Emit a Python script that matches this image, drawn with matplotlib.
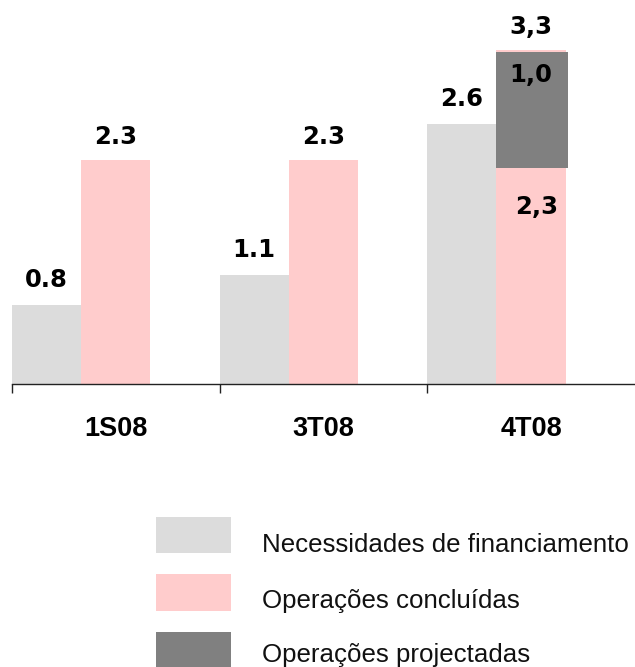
import matplotlib
matplotlib.use("Agg")
import matplotlib.pyplot as plt
from matplotlib.patches import Rectangle
import numpy as np

categories = ["1S08", "3T08", "4T08"]
series_names = ["Necessidades de financiamento", "Operações concluídas", "Operações projectadas"]
needs = [0.81, 1.12, 2.67]
concluded = [2.30, 2.30, 3.43]
projected_bottom = [0.0, 0.0, 2.22]
projected = [0.0, 0.0, 1.19]
needs_labels = ["0.8", "1.1", "2.6"]
concluded_labels = ["2.3", "2.3", "3,3"]
projected_label = "1,0"
concluded_base_label = "2,3"

c_needs = "#DCDCDC"
c_conc = "#FFCCCC"
c_proj = "#808080"
colors = [c_needs, c_conc, c_proj]

DPI = 100
W, H = 635, 667
fig = plt.figure(figsize=(W/DPI, H/DPI), dpi=DPI)
ax = fig.add_axes([12/W, (H-384)/H, 623/W, 384/H])

x = np.arange(len(categories))
w = 0.333
b1 = ax.bar(x, needs, width=w, align="edge", color=c_needs, label=series_names[0])
b2 = ax.bar(x + w, concluded, width=w, align="edge", color=c_conc, label=series_names[1])
b3 = ax.bar(x + w - 0.002, projected, width=w + 0.013, bottom=projected_bottom, align="edge",
            color=c_proj, label=series_names[2])

ax.set_xlim(0, 3)
ax.set_ylim(0, 384/97.4)
for s in ["left", "right", "top"]:
    ax.spines[s].set_visible(False)
ax.spines["bottom"].set_linewidth(1.0)
ax.spines["bottom"].set_color("#222222")
ax.set_yticks([])
ax.set_xticks([0, 1, 2])
ax.set_xticklabels([])
ax.tick_params(axis="x", which="major", length=6.5, width=1.0, color="#222222", direction="out")
ax.set_xticks(x + 0.5, minor=True)
ax.set_xticklabels(categories, minor=True, fontsize=19.5, fontweight="bold", family="Liberation Sans")
ax.tick_params(axis="x", which="minor", length=0, pad=23)

lab_kw = dict(ha="center", va="center", fontsize=17.5, fontweight="bold", family="DejaVu Sans",
              textcoords="offset points")
pt = 72 / DPI
for i in range(3):
    ax.annotate(needs_labels[i], (x[i] + w/2, needs[i]), xytext=(0, 25*pt), **lab_kw)
    ax.annotate(concluded_labels[i], (x[i] + 1.5*w, concluded[i]), xytext=(0, 23*pt), **lab_kw)
ax.annotate(projected_label, (x[2] + 1.5*w, projected_bottom[2] + projected[2]), xytext=(0, -23*pt), **lab_kw)
ax.annotate(concluded_base_label, (x[2] + 1.5*w, projected_bottom[2]), xytext=(6*pt, -39*pt), **lab_kw)

# legend drawn manually (positions in figure pixels)
patch_tops = [517, 574, 632]
patch_h = [36, 37, 36]
baselines = [552, 608, 662]
for name, col, top, ph, bl in zip(series_names, colors, patch_tops, patch_h, baselines):
    fig.patches.append(Rectangle((156/W, (H-top-ph)/H), 75/W, ph/H, transform=fig.transFigure,
                                 facecolor=col, edgecolor="none"))
    fig.text(262/W, (H-bl)/H, name, ha="left", va="baseline", fontsize=18.6,
             family="Liberation Sans", color="#111111")

fig.savefig("out.png", dpi=DPI)
